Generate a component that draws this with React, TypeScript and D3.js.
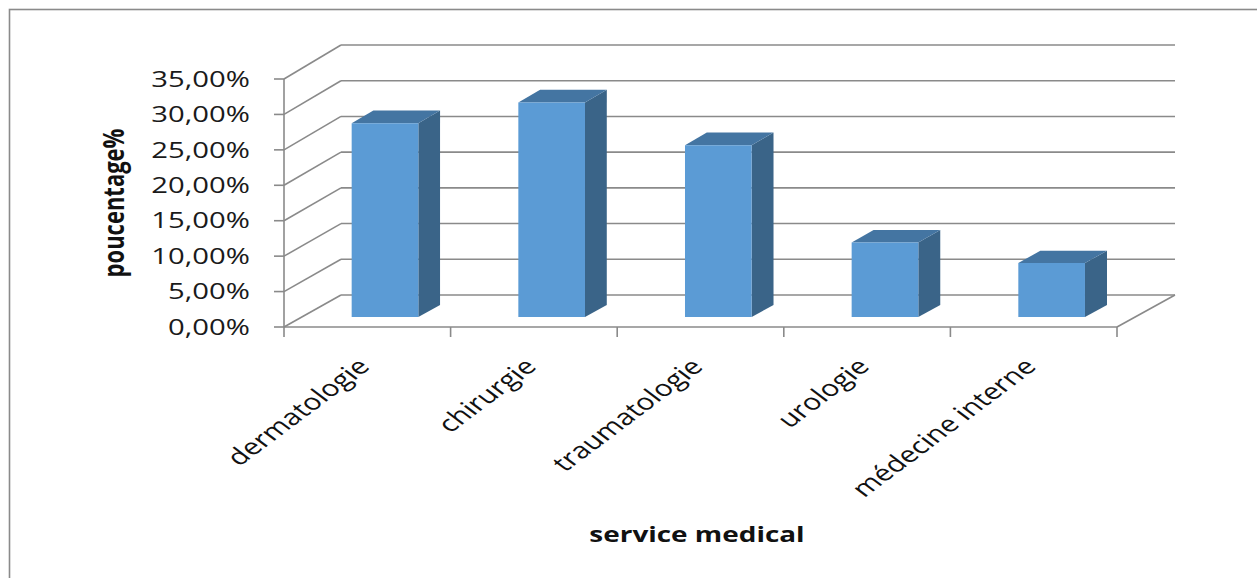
import React from "react";
import * as d3 from "d3";

const categories = ["dermatologie", "chirurgie", "traumatologie", "urologie", "médecine interne"];
const values = [27.3, 30.2, 24.2, 10.5, 7.6];
const yTicks = [0, 5, 10, 15, 20, 25, 30, 35];
const yTickLabels = ["0,00%", "5,00%", "10,00%", "15,00%", "20,00%", "25,00%", "30,00%", "35,00%"];
const yTitle = "poucentage%";
const xTitle = "service medical";

const W = 1257;
const H = 578;
const SX = 1.33; // horizontal stretch seen in the picture
const FONT = "'Open Sans', 'DejaVu Sans', sans-serif";
const GRID = "#8a8a8a";

export default function App() {
  const n = categories.length;
  const xFront = d3.scaleLinear().domain([0, n]).range([284, 1117]);
  const xBack = d3.scaleLinear().domain([0, n]).range([341, 1175]);
  const yFront = d3.scaleLinear().domain([0, 35]).range([327, 79]);
  const yBack = d3.scaleLinear().domain([0, 35]).range([295, 45]);

  const P = (u: number, v: number, d: number): [number, number] => [
    xFront(u) + d * (xBack(u) - xFront(u)),
    yFront(v) + d * (yBack(v) - yFront(v)),
  ];
  const poly = (pts: [number, number][]) => pts.map((p) => p.join(",")).join(" ");

  const bw = 0.4;
  const d0 = 0.31;
  const d1 = 0.69;

  return (
    <svg
      width={W}
      height={H}
      style={{ position: "absolute", left: 0, top: 0, background: "#fff" }}
      fontFamily={FONT}
    >
      <rect x={9.5} y={9.5} width={1400} height={800} fill="none" stroke="#8a8a8a" strokeWidth={1.6} />

      {/* back wall gridlines */}
      {yTicks.map((t) => {
        const a = P(0, t, 1);
        const b = P(n, t, 1);
        return <line key={"g" + t} x1={a[0]} y1={a[1]} x2={b[0]} y2={b[1]} stroke={GRID} strokeWidth={1.6} />;
      })}
      {/* side wall diagonals */}
      {yTicks.map((t) => {
        const a = P(0, t, 0);
        const b = P(0, t, 1);
        return <line key={"s" + t} x1={a[0]} y1={a[1]} x2={b[0]} y2={b[1]} stroke={GRID} strokeWidth={1.6} />;
      })}
      {/* floor right edge */}
      {(() => {
        const a = P(n, 0, 0);
        const b = P(n, 0, 1);
        return <line x1={a[0]} y1={a[1]} x2={b[0]} y2={b[1]} stroke={GRID} strokeWidth={1.6} />;
      })()}
      {/* front vertical axis */}
      <line x1={xFront(0)} y1={yFront(0)} x2={xFront(0)} y2={yFront(35)} stroke={GRID} strokeWidth={1.6} />
      {yTicks.map((t) => (
        <line key={"yt" + t} x1={xFront(0) - 10} y1={yFront(t)} x2={xFront(0)} y2={yFront(t)} stroke={GRID} strokeWidth={1.6} />
      ))}
      {/* front category axis */}
      <line x1={xFront(0)} y1={yFront(0)} x2={xFront(n)} y2={yFront(0)} stroke={GRID} strokeWidth={1.6} />
      {d3.range(n + 1).map((i) => (
        <line key={"xt" + i} x1={xFront(i)} y1={yFront(0)} x2={xFront(i)} y2={yFront(0) + 10} stroke={GRID} strokeWidth={1.6} />
      ))}

      {/* bars */}
      {values.map((v, i) => {
        const u0 = i + 0.5 - bw / 2;
        const u1 = i + 0.5 + bw / 2;
        const front = [P(u0, 0, d0), P(u1, 0, d0), P(u1, v, d0), P(u0, v, d0)];
        const side = [P(u1, 0, d0), P(u1, 0, d1), P(u1, v, d1), P(u1, v, d0)];
        const top = [P(u0, v, d0), P(u1, v, d0), P(u1, v, d1), P(u0, v, d1)];
        return (
          <g key={"b" + i}>
            <polygon points={poly(side)} fill="#3a6488" />
            <polygon points={poly(top)} fill="#4475a2" />
            <polygon points={poly(front)} fill="#5b9bd5" />
          </g>
        );
      })}

      {/* y tick labels */}
      {yTicks.map((t, i) => (
        <text
          key={"yl" + t}
          transform={`translate(250,${yFront(t)}) scale(${SX},1)`}
          textAnchor="end"
          dy="0.35em"
          fontSize={22}
          fill="#1a1a1a"
        >
          {yTickLabels[i]}
        </text>
      ))}

      {/* category labels */}
      {categories.map((c, i) => (
        <text
          key={"c" + i}
          transform={`translate(${xFront(i + 0.5) - 12},356) scale(${SX},1) rotate(-45)`}
          textAnchor="end"
          dy="0.75em"
          fontSize={22.5}
          fill="#111"
        >
          {c}
        </text>
      ))}

      {/* axis titles */}
      <text
        transform={`translate(124,203) scale(${SX},1) rotate(-90)`}
        textAnchor="middle"
        fontSize={22}
        fontWeight="bold"
        fill="#111"
      >
        {yTitle}
      </text>
      <text
        transform={`translate(697,542) scale(${SX},1)`}
        textAnchor="middle"
        fontSize={21}
        fontWeight="bold"
        fill="#111"
      >
        {xTitle}
      </text>
    </svg>
  );
}
